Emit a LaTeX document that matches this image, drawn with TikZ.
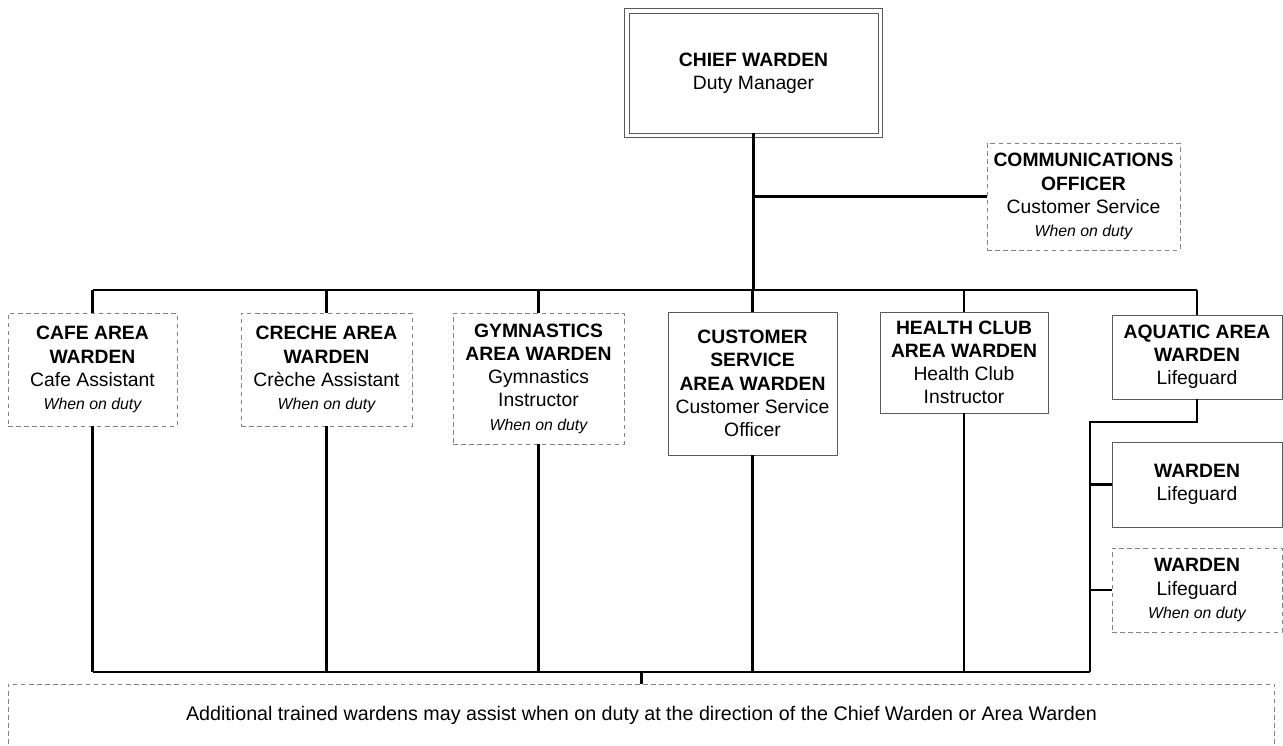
\documentclass[tikz,border=0pt]{standalone}
\usepackage{fontspec}
\setmainfont{Liberation Sans}
\newcommand\whenonduty{{\fontsize{9}{13.2}\selectfont\itshape When on duty}}
\begin{document}
\begin{tikzpicture}[x=0.02cm,y=-0.02cm,
    wardenbox/.style={shape=rectangle,draw=wardengrey,line width=0.5pt,align=center,inner sep=1pt,font=\fontsize{11}{13.2}\selectfont},
    dutybox/.style={wardenbox,draw=dutygrey,dash pattern=on 2.6pt off 2pt},
    link/.style={line width=1.2pt}]
    \definecolor{wardengrey}{RGB}{90,90,90}
    \definecolor{dutygrey}{RGB}{130,130,130}
    \useasboundingbox (0,0) rectangle (1283,745);
    % chief and communications
    \node[wardenbox,minimum width=4.98cm,minimum height=2.4cm] (chief) at (753.5,73) {\textbf{CHIEF WARDEN}\\Duty Manager};
    \draw[wardengrey,line width=0.5pt] ([shift={(-4,-4)}]chief.north west) rectangle ([shift={(4,4)}]chief.south east);
    \node[dutybox,minimum width=3.86cm,minimum height=2.14cm] (comms) at (1083.5,196.5) {\textbf{COMMUNICATIONS}\\\textbf{OFFICER}\\Customer Service\\\whenonduty};
    % area wardens
    \node[dutybox,minimum width=3.38cm,minimum height=2.26cm] (cafe) at (92.5,369.5) {\textbf{CAFE AREA}\\\textbf{WARDEN}\\Cafe Assistant\\\whenonduty};
    \node[dutybox,minimum width=3.42cm,minimum height=2.26cm] (creche) at (326.5,369.5) {\textbf{CRECHE AREA}\\\textbf{WARDEN}\\Crèche Assistant\\\whenonduty};
    \node[dutybox,minimum width=3.42cm,minimum height=2.62cm] (gym) at (538.5,378.5) {\textbf{GYMNASTICS}\\\textbf{AREA WARDEN}\\Gymnastics\\Instructor\\\whenonduty};
    \node[wardenbox,minimum width=3.38cm,minimum height=2.86cm] (custserv) at (752.5,383.5) {\textbf{CUSTOMER}\\\textbf{SERVICE}\\\textbf{AREA WARDEN}\\Customer Service\\Officer};
    \node[wardenbox,minimum width=3.36cm,minimum height=2.02cm] (health) at (964,362.5) {\textbf{HEALTH CLUB}\\\textbf{AREA WARDEN}\\Health Club\\Instructor};
    \node[wardenbox,minimum width=3.4cm,minimum height=1.68cm] (aquatic) at (1197,357) {\textbf{AQUATIC AREA}\\\textbf{WARDEN}\\Lifeguard};
    % lifeguard wardens
    \node[wardenbox,minimum width=3.4cm,minimum height=1.7cm] (guardA) at (1197,484.5) {\textbf{WARDEN}\\Lifeguard};
    \node[dutybox,minimum width=3.4cm,minimum height=1.68cm] (guardB) at (1197,590) {\textbf{WARDEN}\\Lifeguard\\\whenonduty};
    % additional wardens
    \node[dutybox,minimum width=25.34cm,minimum height=1.24cm,font=\fontsize{11.2}{13}\selectfont] (extra) at (641.5,715) {Additional trained wardens may assist when on duty at the direction of the Chief Warden or Area Warden};
    \coordinate (topbus) at (753,290);
    \coordinate (botbus) at (643,672);
    \coordinate (aqjoin) at (1090,422);
    % connectors
    \draw[link] (chief.south) -- (chief.south |- topbus);
    \draw[link] (chief.south |- comms.west) -- (comms.west);
    \draw[link] (cafe.north |- topbus) -- (aquatic.north |- topbus);
    \foreach \w in {cafe,creche,gym,custserv,health,aquatic}
        \draw[link] (\w.north |- topbus) -- (\w.north);
    \foreach \w in {cafe,creche,gym,custserv,health}
        \draw[link] (\w.south) -- (\w.south |- botbus);
    \draw[link] (aquatic.south) |- (aqjoin) -- (aqjoin |- botbus);
    \draw[link] (aqjoin |- guardA.west) -- (guardA.west);
    \draw[link] (aqjoin |- guardB.west) -- (guardB.west);
    \draw[link] (cafe.south |- botbus) -- (aqjoin |- botbus);
    \draw[link] (extra.north |- botbus) -- (extra.north);
\end{tikzpicture}
\end{document}
